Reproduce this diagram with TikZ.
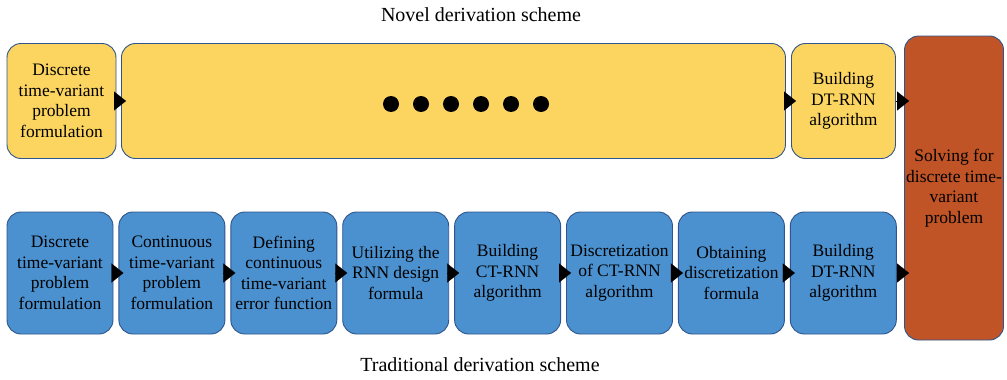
\documentclass[tikz,border=0pt]{standalone}
\usepackage{fontspec}
\setmainfont{Liberation Serif}
\usetikzlibrary{arrows.meta,positioning}
\definecolor{novel}{RGB}{252,213,96}
\definecolor{trad}{RGB}{75,145,207}
\definecolor{solve}{RGB}{192,84,38}
\definecolor{edge}{RGB}{47,85,140}

\begin{document}
\begin{tikzpicture}[x=1pt,y=-1pt,
  font=\fontsize{17.5}{20.5}\selectfont, node distance=5pt,
  bx/.style={draw=edge,line width=0.9pt,rounded corners=14pt,align=center,inner sep=0pt,minimum width=106pt},
  nv/.style={bx,fill=novel,minimum height=115pt},
  tr/.style={bx,fill=trad,minimum height=122pt},
  ar/.style={-{Triangle[length=12pt,width=19pt]},line width=0.2pt,shorten >=-5pt},
  ttl/.style={font=\fontsize{20}{24}\selectfont}]
\useasboundingbox (0,0) rectangle (1007,380);

% novel scheme (top row)
\node[ttl] (top) at (481,15) {Novel derivation scheme};
\node[nv,minimum width=109pt] (n1) at (61.5,101) {Discrete\\time-variant\\problem\\formulation};
\node[nv,minimum width=664pt,anchor=west] (n2) at (121,101) {};
\node[nv,minimum width=104pt,anchor=west] (n3) at (791,101) {Building\\DT-RNN\\algorithm};
\foreach \i in {0,...,5} \fill (391+30*\i,104) circle (8);

% solving box
\node[bx,fill=solve,minimum width=99pt,minimum height=304pt] (s) at (954,188) {Solving for\\discrete time-\\variant\\problem};

% traditional scheme (bottom row)
\node[tr] (t1) at (60,273) {Discrete\\time-variant\\problem\\formulation};
\node[tr,right=of t1] (t2) {Continuous\\time-variant\\problem\\formulation};
\node[tr,right=of t2] (t3) {Defining\\continuous\\time-variant\\error function};
\node[tr,right=of t3] (t4) {Utilizing the\\RNN design\\formula};
\node[tr,right=of t4] (t5) {Building\\CT-RNN\\algorithm};
\node[tr,right=of t5] (t6) {Discretization\\of CT-RNN\\algorithm};
\node[tr,right=of t6] (t7) {Obtaining\\discretization\\formula};
\node[tr,right=of t7] (t8) {Building\\DT-RNN\\algorithm};
\node[ttl] (bot) at (480,365) {Traditional derivation scheme};

\foreach \x/\y in {n1/n2,n2/n3,t1/t2,t2/t3,t3/t4,t4/t5,t5/t6,t6/t7,t7/t8} \draw[ar] (\x) -- (\y);
\draw[ar] (n3) -- (n3 -| s.west);
\draw[ar] (t8) -- (t8 -| s.west);
\end{tikzpicture}
\end{document}
